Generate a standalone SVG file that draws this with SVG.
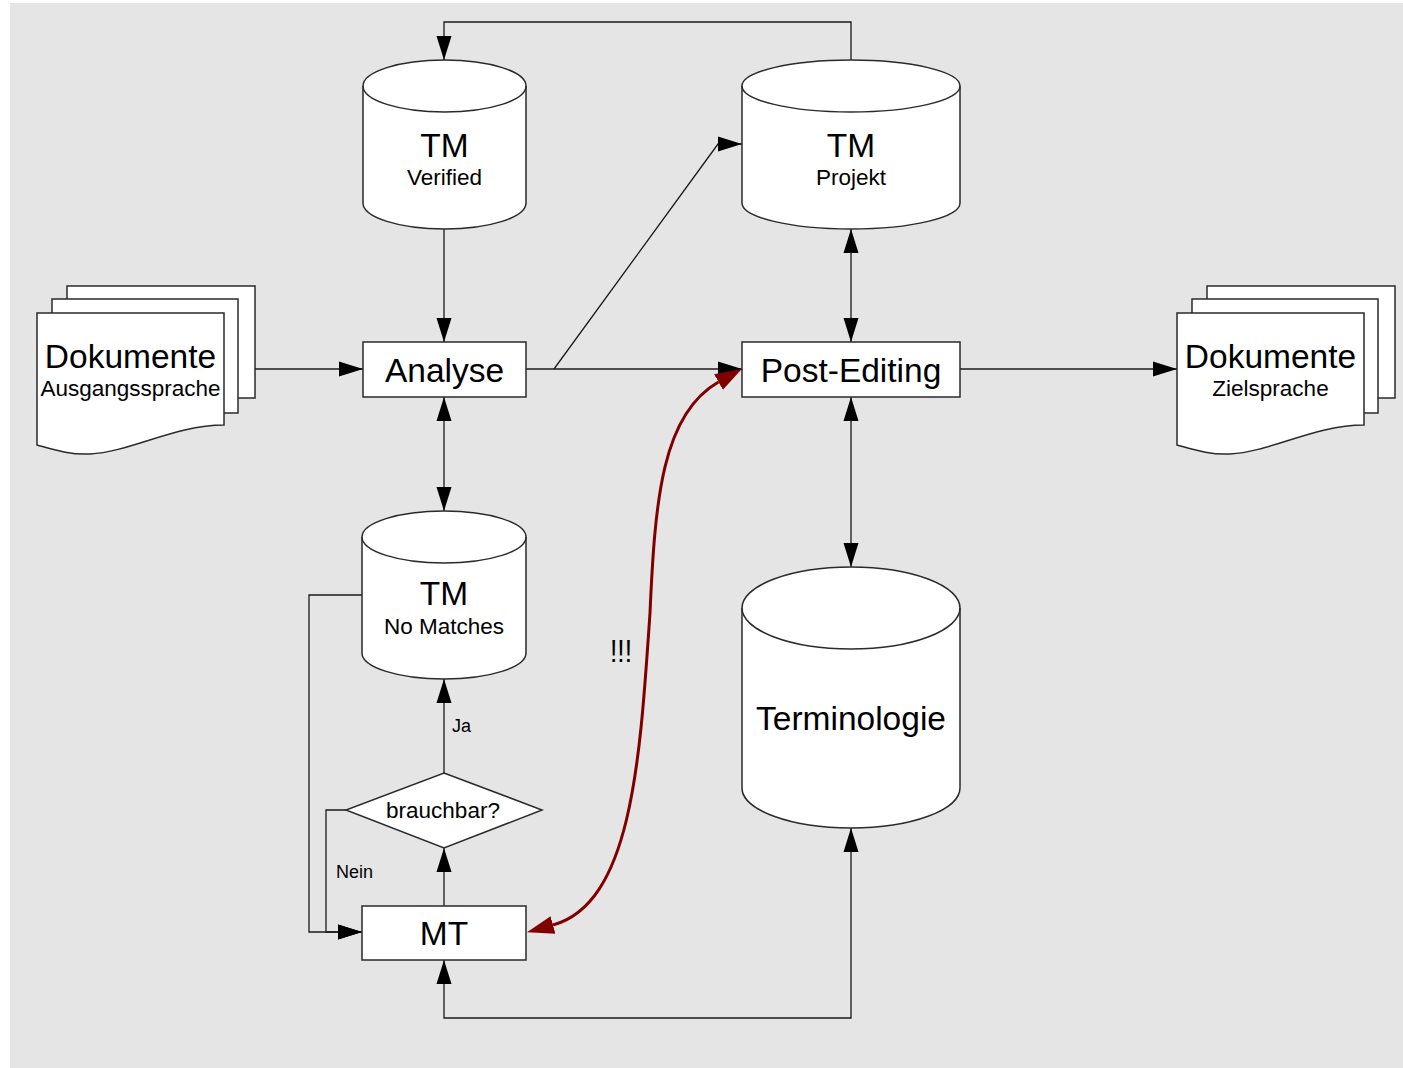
<svg xmlns="http://www.w3.org/2000/svg" width="1403" height="1068" viewBox="0 0 1403 1068">
<style>
.node{fill:#fff;stroke:#2a2a2a;stroke-width:1.5}
.inner{fill:none;stroke:#2a2a2a;stroke-width:1.5}
text{font-family:"Liberation Sans",Arial,Helvetica,sans-serif;fill:#000;text-anchor:middle}
.tt{font-size:33.5px}
.ts{font-size:22.5px}
.tl{font-size:18px;text-anchor:start}
.conn{fill:none;stroke:#1a1a1a;stroke-width:1.3}
.red{fill:none;stroke:#800000;stroke-width:3}
</style>
<defs>
<marker id="arr" viewBox="0 0 24 16" refX="24" refY="8" markerWidth="24" markerHeight="16" markerUnits="userSpaceOnUse" orient="auto-start-reverse">
<path d="M0,0.5 L24,8 L0,15.5 Z" fill="#000"/>
</marker>
<marker id="arrRed" viewBox="0 0 28 20" refX="0" refY="10" markerWidth="28" markerHeight="20" markerUnits="userSpaceOnUse" orient="auto-start-reverse">
<path d="M0,1 L27,10 L0,19 Z" fill="#800000"/>
</marker>
<g id="docstack">
<rect class="node" x="67" y="286" width="188" height="112"/>
<rect class="node" x="52" y="299" width="186" height="114"/>
<path class="node" d="M37,313 H224 V425 C175,425 130,452 90,454 C70,455 55,450 37,445 Z"/>
</g>
</defs>
<rect x="10" y="3" width="1393" height="1065" fill="#e5e5e5"/>

<g id="connectors">
<path class="conn" d="M851,60 V22 H444 V60" marker-end="url(#arr)"/>
<path class="conn" d="M444,229 V342" marker-end="url(#arr)"/>
<path class="conn" d="M255,369 H363" marker-end="url(#arr)"/>
<path class="conn" d="M526,369 H742" marker-end="url(#arr)"/>
<path class="conn" d="M554,369 L718,144 L742,144" marker-end="url(#arr)"/>
<path class="conn" d="M444,397 V511" marker-start="url(#arr)" marker-end="url(#arr)"/>
<path class="conn" d="M851,229 V342" marker-start="url(#arr)" marker-end="url(#arr)"/>
<path class="conn" d="M851,397 V567" marker-start="url(#arr)" marker-end="url(#arr)"/>
<path class="conn" d="M960,369 H1177" marker-end="url(#arr)"/>
<path class="conn" d="M851,828 V1018 H444 V960" marker-start="url(#arr)" marker-end="url(#arr)"/>
<path class="conn" d="M444,906 V848" marker-end="url(#arr)"/>
<path class="conn" d="M444,773 V679" marker-end="url(#arr)"/>
<path class="conn" d="M346,810 H326 V932 H362" marker-end="url(#arr)"/>
<path class="conn" d="M362,595 H309 V932 H362" marker-end="url(#arr)"/>
<path class="red" d="M718.5,382 C662,414 655,500 650,613 C640,760 632,903 553,925" marker-start="url(#arrRed)" marker-end="url(#arrRed)"/>
<text class="tl" x="452" y="732">Ja</text>
<text class="tl" x="336" y="878">Nein</text>
<text x="621" y="662" style="font-size:32px" textLength="22" lengthAdjust="spacingAndGlyphs">!!!</text>
</g>

<g id="doc-source">
<use href="#docstack"/>
<text class="tt" x="130.5" y="368">Dokumente</text>
<text class="ts" x="130.5" y="396">Ausgangssprache</text>
</g>

<g id="doc-target">
<use href="#docstack" transform="translate(1140,0)"/>
<text class="tt" x="1270.5" y="368">Dokumente</text>
<text class="ts" x="1270.5" y="396">Zielsprache</text>
</g>

<g id="tm-verified">
<path class="node" d="M363,86 V203 A81.5,26 0 0 0 526,203 V86 A81.5,26 0 0 0 363,86 Z"/>
<path class="inner" d="M363,86 A81.5,26 0 0 0 526,86"/>
<text class="tt" x="444.5" y="157">TM</text>
<text class="ts" x="444.5" y="185">Verified</text>
</g>

<g id="tm-projekt">
<path class="node" d="M742,86 V203 A109,26 0 0 0 960,203 V86 A109,26 0 0 0 742,86 Z"/>
<path class="inner" d="M742,86 A109,26 0 0 0 960,86"/>
<text class="tt" x="851" y="157">TM</text>
<text class="ts" x="851" y="185">Projekt</text>
</g>

<g id="analyse">
<rect class="node" x="363" y="342" width="163" height="55"/>
<text class="tt" x="444.5" y="382">Analyse</text>
</g>

<g id="post-editing">
<rect class="node" x="742" y="342" width="218" height="55"/>
<text class="tt" x="851" y="382">Post-Editing</text>
</g>

<g id="tm-no-matches">
<path class="node" d="M362,537 V653 A82,26 0 0 0 526,653 V537 A82,26 0 0 0 362,537 Z"/>
<path class="inner" d="M362,537 A82,26 0 0 0 526,537"/>
<text class="tt" x="444" y="605">TM</text>
<text class="ts" x="444" y="634">No Matches</text>
</g>

<g id="terminologie">
<path class="node" d="M742,608 V788 A109,40 0 0 0 960,788 V608 A109,41 0 0 0 742,608 Z"/>
<path class="inner" d="M742,608 A109,41 0 0 0 960,608"/>
<text class="tt" x="851" y="730">Terminologie</text>
</g>

<g id="brauchbar">
<path class="node" d="M444,773 L542,810 L444,848 L346,810 Z"/>
<text class="ts" x="443" y="818">brauchbar?</text>
</g>

<g id="mt">
<rect class="node" x="362" y="906" width="164" height="54"/>
<text class="tt" x="444" y="945">MT</text>
</g>
</svg>
